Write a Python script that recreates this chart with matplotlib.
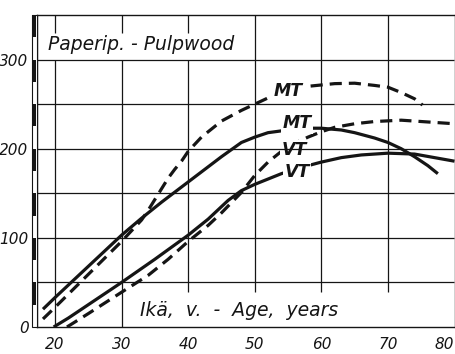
import matplotlib
matplotlib.use("Agg")
import matplotlib.pyplot as plt
import numpy as np
from matplotlib.patches import Rectangle
from matplotlib.transforms import blended_transform_factory

# ---- data ----
mt_solid_age = [18.2, 20, 25, 30, 33, 36, 39, 42, 45, 48, 50, 52, 55, 58, 60, 63, 65, 68, 70, 72, 74, 76, 77.5]
mt_solid_val = [20, 33, 68, 103, 122, 140, 157, 174, 191, 207, 213, 218, 221, 223, 223, 221, 218, 212, 207, 200, 191, 181, 172]

mt_dash_age = [18.2, 20, 25, 30, 33, 34, 35, 36, 37, 38, 39, 40, 42, 45, 48, 52, 55, 58, 62, 65, 68, 70, 72, 74, 75.2]
mt_dash_val = [9, 22, 59, 96, 120, 131, 143, 155, 167, 177, 186, 197, 213, 231, 243, 257, 264, 270, 273, 273.5, 271, 269, 263, 256, 249]

vt_solid_age = [19.8, 22, 25, 30, 35, 40, 43, 46, 48, 50, 52, 54, 57, 60, 63, 66, 70, 74, 77, 80]
vt_solid_val = [0, 10, 25, 50, 76, 103, 121, 142, 153, 160, 166, 172, 179, 185, 190, 193, 195, 194, 190, 186]

vt_dash_age = [21.8, 25, 30, 34, 37, 40, 43, 45, 48, 50, 52, 54, 56, 58, 60, 62, 65, 68, 72, 76, 80]
vt_dash_val = [0, 15, 39, 58, 76, 96, 114, 128, 151, 170, 185, 197, 206, 213, 219, 224, 228, 230.5, 232, 230, 228]

x_ticks = [20, 30, 40, 50, 60, 70, 80]
y_ticks = [0, 100, 200, 300]
y_grid = [50, 100, 150, 200, 250, 300]

curve_labels = ["MT", "MT", "VT", "VT"]
label_age = [55.1, 56.4, 55.9, 56.4]
label_val = [264.5, 228.5, 198.5, 174]

title_text = "Paperip. - Pulpwood"
xlabel_text = "Ikä,  v.  -  Age,  years"

INK = "#151515"

fig = plt.figure(figsize=(4.55, 3.54), dpi=100)
ax = fig.add_axes([37/455, 27/354, 417.5/455, 312/354])
ax.set_xlim(17.3, 80)
ax.set_ylim(0, 350)

# grid
for x in x_ticks[:-1]:
    if x <= 30:
        segs = [(0, 300), (330, 350)]
    elif x == 40:
        segs = [(39, 300), (330, 350)]
    else:
        segs = [(39, 350)]
    for a, b in segs:
        ax.vlines(x, a, b, color=INK, lw=0.9, zorder=4)
for y in y_grid:
    ax.hlines(y, 17.3, 80, color=INK, lw=0.9, zorder=4)

# curves
lw = 2.3
ax.plot(mt_solid_age, mt_solid_val, color=INK, lw=lw, solid_capstyle="butt", zorder=2)
ax.plot(vt_solid_age, vt_solid_val, color=INK, lw=lw, solid_capstyle="butt", zorder=2)
ax.plot(mt_dash_age, mt_dash_val, color=INK, lw=lw, dashes=(3.8, 2.2), zorder=2)
ax.plot(vt_dash_age, vt_dash_val, color=INK, lw=lw, dashes=(3.8, 2.2), zorder=2)

for t, xa, ya in zip(curve_labels, label_age, label_val):
    ax.text(xa, ya, t, ha="center", va="center", fontsize=12.5, fontweight="bold",
            style="italic", color=INK, zorder=3,
            bbox=dict(boxstyle="square,pad=0.08", fc="white", ec="none"))

ax.text(18.9, 317, title_text, ha="left", va="center", fontsize=13.5, style="italic",
        color=INK, zorder=5)
ax.text(32.7, 18, xlabel_text, ha="left", va="center", fontsize=13.5, style="italic",
        color=INK, zorder=5)

# spines
for s in ["top", "right", "bottom", "left"]:
    ax.spines[s].set_color(INK)
    ax.spines[s].set_linewidth(1.0)

# left scale bar
trans = blended_transform_factory(ax.transAxes, ax.transData)
bw = 5 / 417.5
ax.add_patch(Rectangle((-bw, 0), bw, 350, transform=trans, clip_on=False,
                       fc="white", ec=INK, lw=0.8, zorder=6))
for y0 in np.arange(25, 350, 50):
    ax.add_patch(Rectangle((-bw, y0), bw * 0.75, 25, transform=trans, clip_on=False,
                           fc=INK, ec="none", zorder=7))

ax.set_xticks(x_ticks)
ax.set_yticks(y_ticks)
ax.set_xticklabels([str(v) for v in x_ticks], fontsize=11, style="italic", color=INK)
ax.set_yticklabels([str(v) for v in y_ticks], fontsize=11, style="italic", color=INK)
ax.get_xticklabels()[-1].set_ha("right")
ax.tick_params(axis="both", length=0)
ax.tick_params(axis="y", pad=6)
ax.tick_params(axis="x", pad=7)

fig.savefig("out.png", dpi=100)
